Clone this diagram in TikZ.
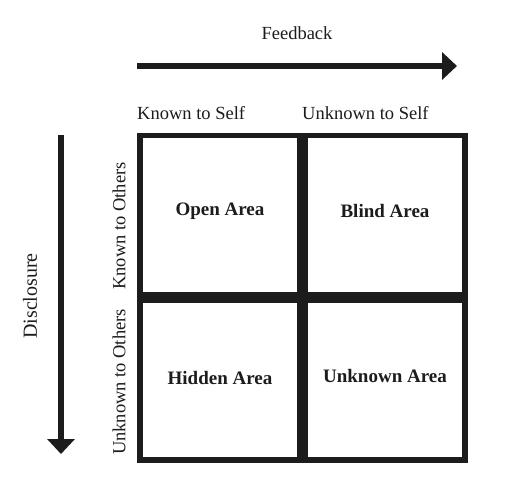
\documentclass[tikz,border=0pt]{standalone}
\usepackage{fontspec}
\setmainfont{Liberation Serif}
\usetikzlibrary{arrows.meta}
\definecolor{ink}{HTML}{1C1C1C}
\tikzset{
  cell/.style={draw=ink, line width=5.5pt, rectangle, inner sep=0pt, minimum width=160pt, minimum height=159.5pt},
  celltext/.style={font=\fontsize{19}{22}\selectfont\bfseries, text=ink},
  axislabel/.style={font=\fontsize{18.5}{21}\selectfont, text=ink},
  bigarrow/.style={draw=ink, line width=6pt, line cap=butt, -{Triangle[length=15pt,width=27pt]}}
}
\begin{document}
\begin{tikzpicture}[x=1pt,y=-1pt]
\useasboundingbox[fill=white] (0,0) rectangle (520,495);
% cells
\node[cell] (c1) at (219.75,215.25) {};
\node[cell] (c2) at (384.75,215.25) {};
\node[cell] (c3) at (219.75,380.25) {};
\node[cell] (c4) at (384.75,380.25) {};
\node[celltext] (t1) at (220,211) {Open Area};
\node[celltext] (t2) at (385,211) {Blind Area};
\node[celltext] (t3) at (220,378) {Hidden Area};
\node[celltext] (t4) at (385,376) {Unknown Area};
% feedback arrow
\coordinate (fs) at (137,66);
\coordinate (fe) at (457,66);
\draw[bigarrow] (fs) -- (fe);
\node[axislabel] (fb) at (297,33) {Feedback};
% disclosure arrow
\coordinate (ds) at (61,135);
\coordinate (de) at (61,454);
\draw[bigarrow] (ds) -- (de);
\node[axislabel, font=\fontsize{20}{22}\selectfont, rotate=90] (dl) at (30,296) {Disclosure};
% column headings
\node[axislabel, anchor=west, inner sep=0pt] (k1) at (137,113) {Known to Self};
\node[axislabel, anchor=west, inner sep=0pt] (k2) at (302,113) {Unknown to Self};
% row headings
\node[axislabel, rotate=90] (r1) at (119,226) {Known to Others};
\node[axislabel, rotate=90] (r2) at (119,382) {Unknown to Others};
\end{tikzpicture}
\end{document}
